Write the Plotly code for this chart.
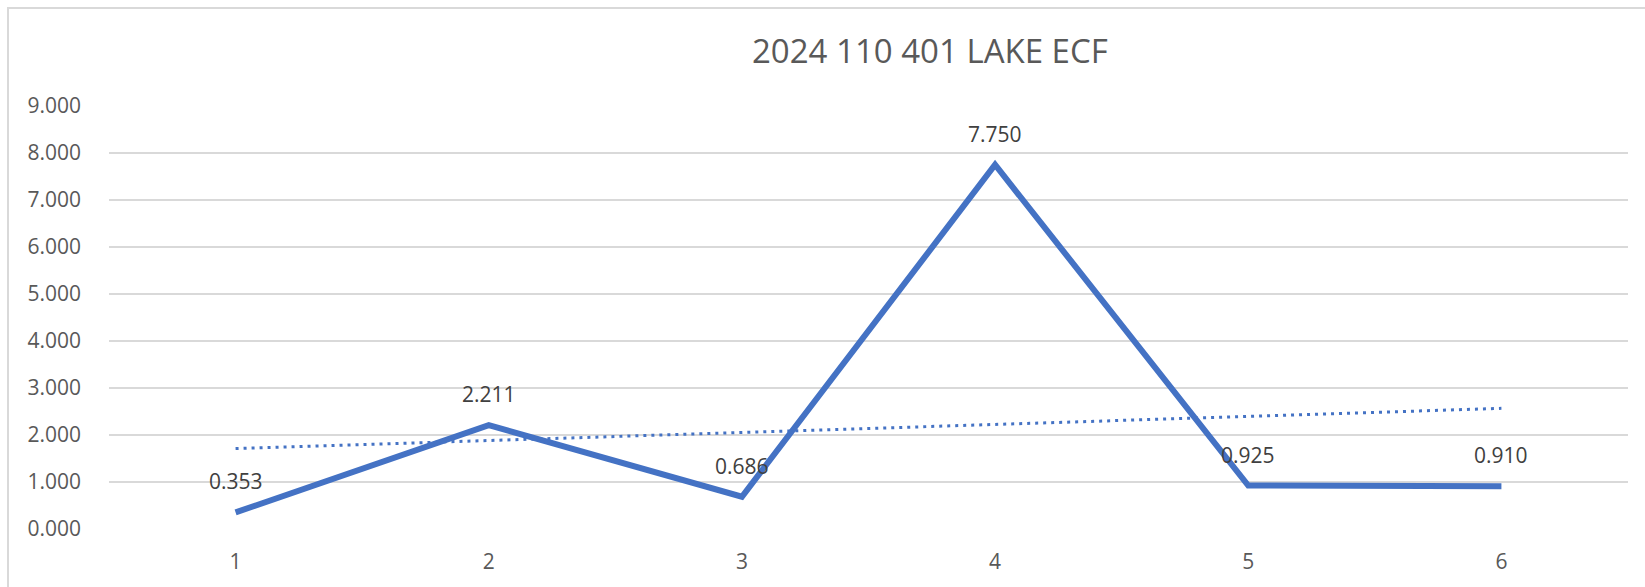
import numpy as np
import plotly.graph_objects as go

categories = [1, 2, 3, 4, 5, 6]
values = [0.353, 2.211, 0.686, 7.750, 0.925, 0.910]
y_ticks = [0, 1, 2, 3, 4, 5, 6, 7, 8, 9]
title_text = "2024 110 401 LAKE ECF"

# linear trendline (as Excel computes it) across the data range
slope, intercept = np.polyfit(categories, values, 1)
trend_x = [categories[0], categories[-1]]
trend_y = [slope * x + intercept for x in trend_x]

W, H = 1645, 587
L, R, T, B = 109, 17, 106, 56
pw, ph = W - L - R, H - T - B

BLUE = "#4472C4"
FONT = "Open Sans"

fig = go.Figure()
fig.add_trace(go.Scatter(
    x=trend_x, y=trend_y, mode="lines",
    line=dict(color=BLUE, width=3, dash="3px,5px"),
    hoverinfo="skip", showlegend=False,
))
fig.add_trace(go.Scatter(
    x=categories, y=values, mode="lines",
    line=dict(color=BLUE, width=6),
    showlegend=False,
))

for x, v in zip(categories, values):
    fig.add_annotation(
        x=x, y=v, xref="x", yref="y", text=f"{v:.3f}", showarrow=False,
        yshift=31, font=dict(family=FONT, size=21, color="#404040"),
    )

# title (paper coords are relative to the plot area)
fig.add_annotation(
    x=(930 - L) / pw, y=1 + (T - 50) / ph, xref="paper", yref="paper",
    text=title_text, showarrow=False, xanchor="center", yanchor="middle",
    font=dict(family=FONT, size=33, color="#595959"),
)

# chart area border
fig.add_shape(
    type="rect", xref="paper", yref="paper",
    x0=(8 - L) / pw, x1=(W + 10 - L) / pw,
    y0=-(B + 10) / ph, y1=1 + (T - 7.5) / ph,
    line=dict(color="#D9D9D9", width=2), layer="below",
)

fig.update_layout(
    width=W, height=H,
    margin=dict(l=L, r=R, t=T, b=B, pad=0),
    paper_bgcolor="white", plot_bgcolor="white",
    font=dict(family=FONT, size=21, color="#595959"),
    xaxis=dict(
        range=[0.5, 6.5], tickvals=categories, ticktext=[str(c) for c in categories],
        showgrid=False, zeroline=False, showline=False,
        ticks="outside", ticklen=0, ticklabelstandoff=14,
        tickfont=dict(family=FONT, size=21, color="#595959"),
    ),
    yaxis=dict(
        range=[0, 9], tickvals=y_ticks, tickformat=".3f",
        showgrid=True, gridcolor="#D9D9D9", gridwidth=1.5,
        zeroline=False, showline=False, ticklabelstandoff=27,
        tickfont=dict(family=FONT, size=21, color="#595959"),
    ),
)

fig.write_html(
    "out.html",
    config={"displayModeBar": False},
    post_script="document.body.style.margin='0';document.body.style.overflow='hidden';",
)
